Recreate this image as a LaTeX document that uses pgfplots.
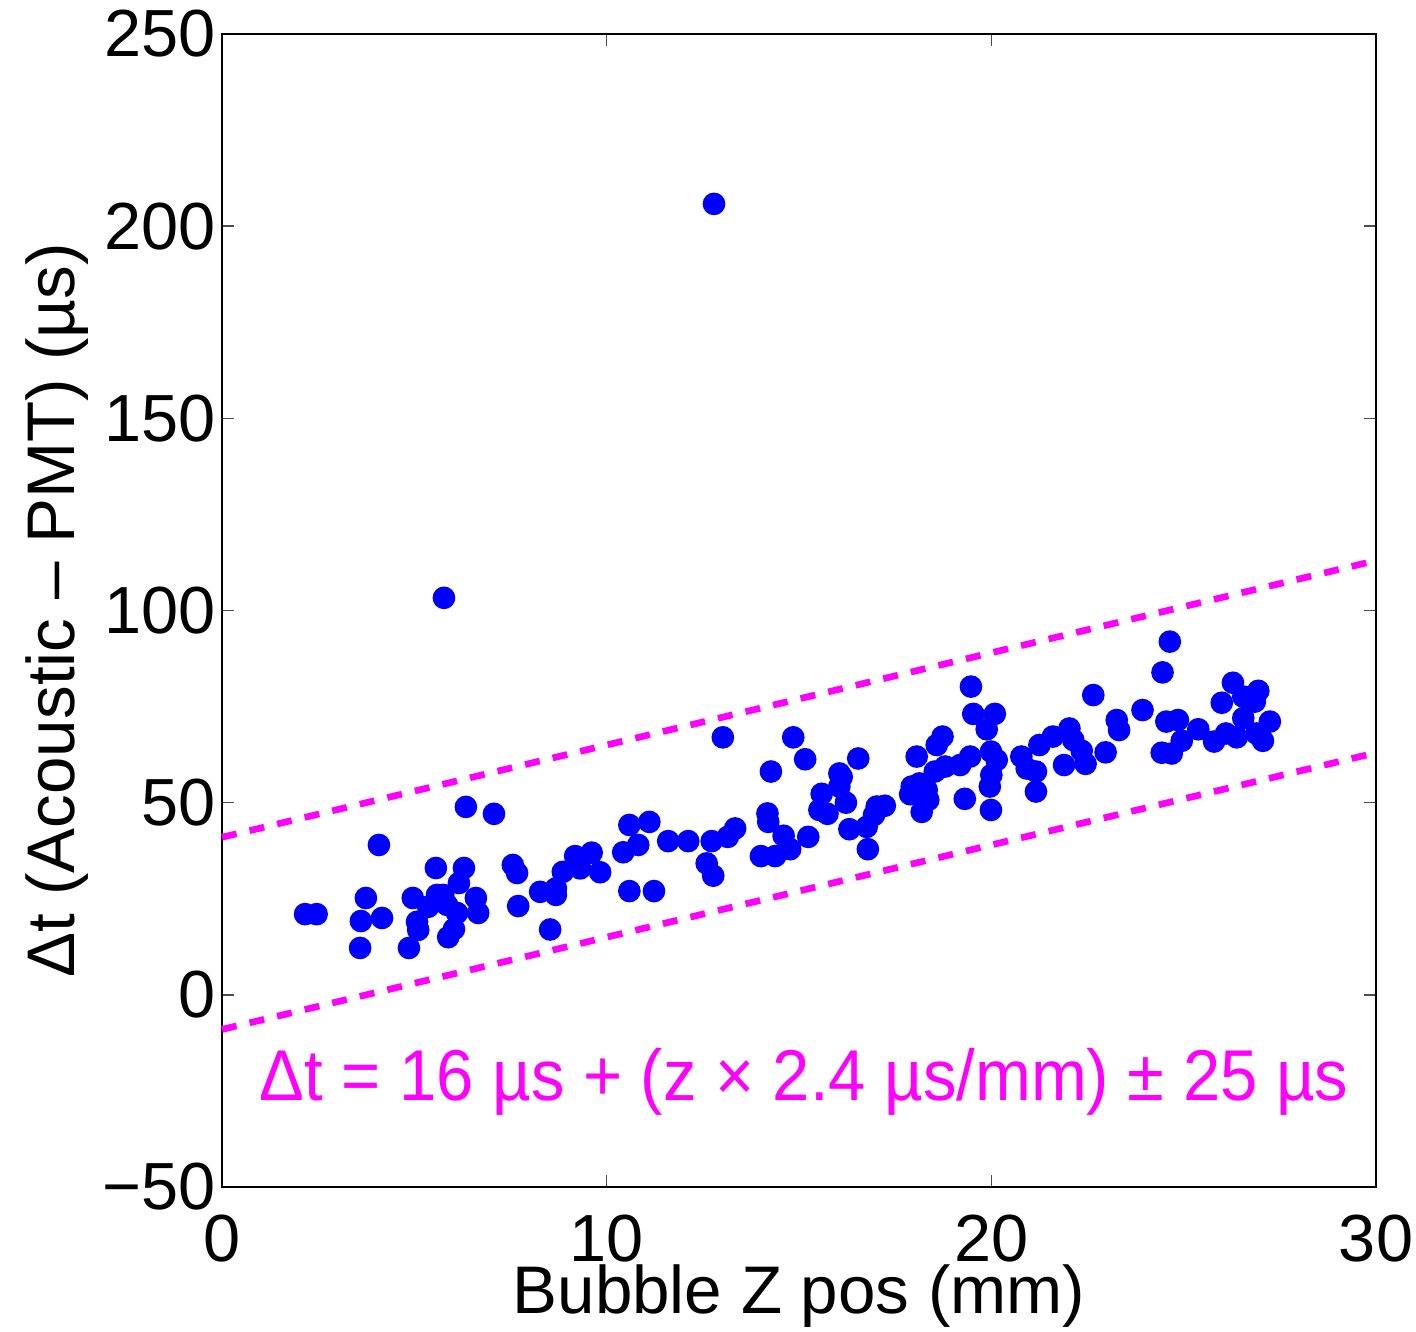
\documentclass[border=0pt]{standalone}
\usepackage{pgfplots}
\pgfplotsset{compat=1.18}
\usepackage{fontspec}
\setmainfont{Liberation Sans}
\begin{document}
\begin{tikzpicture}
\begin{axis}[
  scale only axis,
  width=346.2pt, height=345.9pt,
  xmin=0, xmax=30, ymin=-50, ymax=250,
  xtick={0,10,20,30}, xticklabels={0,10,20,30},
  ytick={-50,0,50,100,150,200,250},
  yticklabels={−50,0,50,100,150,200,250},
  tick align=inside, major tick length=3.6pt,
  tick style={black!70, line width=0.4pt},
  axis line style={black, line width=0.6pt},
  ticklabel style={font=\fontsize{20}{24}\selectfont},
  label style={font=\fontsize{20.2}{24}\selectfont},
  xlabel={Bubble Z pos (mm)},
  ylabel={Δt (Acoustic – PMT) (µs)},
  yticklabel style={xshift=1.6pt},
  xticklabel style={yshift=-4.8pt},
  xlabel style={yshift=6.2pt},
  ylabel style={yshift=-2.7pt},
  clip=false,
]
\addplot[only marks, mark=*, mark size=3.2pt, color={rgb,255:red,0;green,0;blue,255}, mark options={draw=none, fill={rgb,255:red,0;green,0;blue,255}}] coordinates {
(2.16,21.0)(2.46,21.0)(3.74,25.2)(3.61,19.2)(4.16,20.0)(3.59,12.2)(4.08,39.0)
(4.86,12.2)(4.96,25.2)(5.07,19.0)(5.10,16.9)(5.56,33.0)(6.29,33.0)(6.16,29.1)
(5.59,26.0)(5.75,26.0)(5.36,22.9)(5.85,23.4)(6.11,21.3)(6.03,17.1)(5.88,15.0)
(6.60,25.2)(6.66,21.3)(6.34,48.9)(7.07,47.1)(7.56,33.8)(7.67,31.7)(7.70,23.1)
(8.27,26.8)(5.77,103.3)(12.79,205.8)(13.02,67.0)(14.27,58.1)(14.18,47.2)(14.20,45.0)
(14.60,41.4)(14.01,36.1)(14.38,36.1)(8.68,27.7)(8.68,26.0)(8.53,17.0)(8.86,32.0)
(9.18,36.1)(9.31,32.9)(9.61,37.0)(9.83,31.9)(10.59,44.2)(11.11,45.0)(10.43,37.1)
(10.82,39.0)(10.59,27.0)(11.23,27.0)(11.60,40.0)(12.12,40.0)(12.73,40.0)(12.60,34.2)
(12.77,31.0)(13.15,41.1)(13.34,43.3)(14.85,67.0)(15.16,61.3)(14.77,37.9)(15.24,41.1)
(15.59,52.3)(15.53,48.1)(15.74,47.1)(16.05,57.6)(16.11,56.7)(16.05,54.2)(16.22,50.0)
(16.54,61.5)(16.31,43.1)(16.76,43.7)(16.95,46.8)(17.02,49.0)(17.23,49.2)(16.79,37.9)
(18.06,62.0)(17.93,54.2)(17.89,52.2)(18.13,55.0)(18.32,53.3)(18.36,50.7)(18.19,47.6)
(18.53,58.1)(18.73,67.2)(18.58,65.0)(18.80,59.4)(19.19,59.8)(19.45,62.0)(19.47,80.2)
(19.53,73.1)(19.31,51.0)(20.09,73.1)(19.88,69.1)(19.99,63.3)(20.14,61.1)(20.00,57.2)
(19.96,54.2)(19.99,48.1)(20.78,62.0)(24.64,91.9)(24.45,83.9)(22.65,78.0)(23.93,74.1)
(23.26,71.5)(23.32,68.9)(20.92,58.9)(21.16,58.1)(21.16,52.9)(21.25,65.0)(21.60,67.2)
(22.03,69.3)(22.13,66.3)(22.35,63.5)(21.89,59.8)(22.45,60.1)(22.97,63.1)(24.55,71.1)
(24.85,71.5)(24.95,66.1)(24.43,63.0)(24.69,62.8)(25.38,69.1)(25.79,65.9)(26.10,68.0)
(26.38,67.0)(25.99,76.0)(26.28,81.2)(26.55,77.6)(26.94,79.1)(26.85,76.3)(26.55,72.0)
(26.89,68.0)(27.06,66.1)(27.24,71.1)
};
\addplot[color={rgb,255:red,255;green,0;blue,255}, line width=2pt, dash pattern=on 4.5pt off 4pt] coordinates {(0,41)(30,113)};
\addplot[color={rgb,255:red,255;green,0;blue,255}, line width=2pt, dash pattern=on 4.5pt off 4pt] coordinates {(0,-9)(30,63)};
\node[anchor=base, inner sep=0pt, text={rgb,255:red,255;green,0;blue,255}] at (axis cs:15.13,-27.6) {\scalebox{0.93}[1]{\fontsize{21.6}{26}\selectfont Δt = 16 µs + (z × 2.4 µs/mm) ± 25 µs}};
\end{axis}
\pgfresetboundingbox
\path ([shift={(-66.6pt,-43.2pt)}]current axis.south west) rectangle ([shift={(12pt,10.2pt)}]current axis.north east);
\end{tikzpicture}
\end{document}
